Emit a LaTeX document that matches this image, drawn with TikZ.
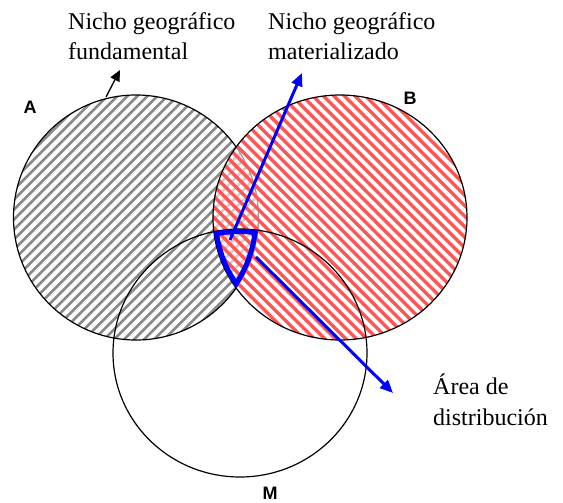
\documentclass[tikz,border=0pt]{standalone}
\usepackage{fontspec}
\setmainfont{Liberation Serif}
\setsansfont{Liberation Sans}
\usetikzlibrary{arrows.meta}
\definecolor{stripegray}{RGB}{138,138,138}
\definecolor{stripered}{RGB}{255,85,85}
\begin{document}
\begin{tikzpicture}[x=1pt,y=-1pt,
  circ/.style={draw=black, line width=1.2pt},
  lbl/.style={font=\sffamily\bfseries\fontsize{18}{20}\selectfont, inner sep=0},
  txt/.style={font=\fontsize{24}{30}\selectfont, anchor=base west, inner sep=0},
  bluearrow/.style={draw=blue, line width=3pt, -{Triangle[length=13pt,width=11pt]}},
  blackarrow/.style={draw=black, line width=1.3pt, -{Triangle[length=11pt,width=10pt]}},
  graystripe/.style={draw=stripegray, line width=2.8pt},
  redstripe/.style={draw=stripered, line width=3.2pt},
]
\useasboundingbox (0,0) rectangle (563,503);
\def\pathA{(136,217.5) circle [radius=122.5]}
\def\pathB{(340,217.5) ellipse [x radius=127, y radius=122.5]}
\def\pathM{(240,353) ellipse [x radius=127, y radius=124]}
% circle A
\begin{scope}
  \clip \pathA;
  \foreach \c in {-280,-270,...,280}
    \draw[graystripe] (\c-14,367.5) -- (\c+286,67.5);
\end{scope}
\draw[circ] \pathA;
% circle B
\fill[white, fill opacity=0.6] \pathB;
\begin{scope}
  \clip \pathB;
  \foreach \c in {-283.5,-273,...,284}
    \draw[redstripe] (\c+190,67.5) -- (\c+490,367.5);
\end{scope}
\draw[circ] \pathB;
% circle M
\draw[circ] \pathM;
% distribution area outline
\begin{scope}
  \clip \pathA;
  \clip \pathB;
  \clip \pathM;
  \draw[blue, line width=10pt] \pathA;
  \draw[blue, line width=10pt] \pathB;
  \draw[blue, line width=10pt] \pathM;
\end{scope}
% labels
\node[lbl] (lA) at (30,107) {A};
\node[lbl] (lB) at (410,98) {B};
\node[lbl] (lM) at (270,493) {M};
\node[txt] (t1a) at (68,30) {Nicho geográfico};
\node[txt] (t1b) at (68,60) {fundamental};
\node[txt] (t2a) at (268,30) {Nicho geográfico};
\node[txt] (t2b) at (268,60) {materializado};
\node[txt] (t3a) at (433,394) {Área de};
\node[txt] (t3b) at (433,425) {distribución};
% arrows
\coordinate (k1) at (106,97);
\coordinate (k1e) at (120,70);
\coordinate (b1) at (230,240);
\coordinate (b1e) at (302,73);
\coordinate (b2) at (256,257);
\coordinate (b2e) at (393,393);
\draw[blackarrow] (k1) -- (k1e);
\draw[bluearrow] (b1) -- (b1e);
\draw[bluearrow] (b2) -- (b2e);
\end{tikzpicture}
\end{document}
